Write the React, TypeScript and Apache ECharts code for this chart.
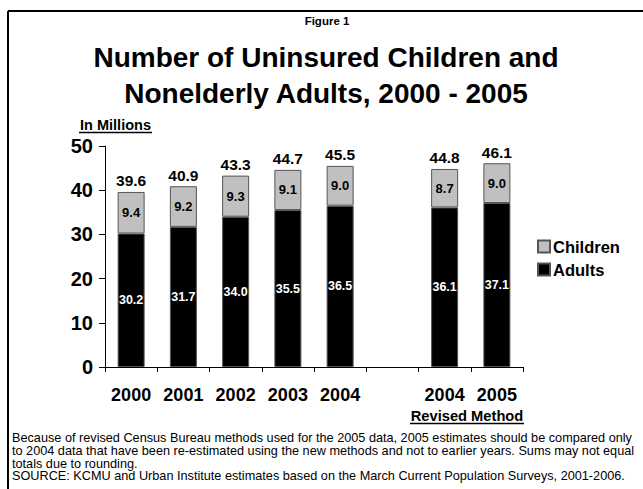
import React, { useEffect, useRef } from "react";
import * as echarts from "echarts";

const categories = ["2000", "2001", "2002", "2003", "2004", "", "2004", "2005"];
const adults = [30.2, 31.7, 34.0, 35.5, 36.5, null, 36.1, 37.1];
const children = [9.4, 9.2, 9.3, 9.1, 9.0, null, 8.7, 9.0];
const totals = [39.6, 40.9, 43.3, 44.7, 45.5, null, 44.8, 46.1];
const yTicks = [0, 10, 20, 30, 40, 50];

const titleLines = ["Number of Uninsured Children and", "Nonelderly Adults, 2000 - 2005"];
const footerLines = [
  "Because of revised Census Bureau methods used for the 2005 data, 2005 estimates should be compared only",
  "to 2004 data that have been re-estimated using the new methods and not to earlier years. Sums may not equal",
  "totals due to rounding.",
  "SOURCE: KCMU and Urban Institute estimates based on the March Current Population Surveys, 2001-2006.",
];

const FONT = '"Liberation Sans", Arial, Helvetica, sans-serif';

export default function App() {
  const ref = useRef<HTMLDivElement>(null);
  useEffect(() => {
    document.body.style.margin = "0";
    if (!ref.current) return;
    const chart = echarts.init(ref.current, null, { renderer: "svg" });
    const graphic: any[] = [
      { type: "line", shape: { x1: 8, y1: 11, x2: 643, y2: 11 }, style: { stroke: "#000", lineWidth: 2 } },
      { type: "line", shape: { x1: 8, y1: 11, x2: 8, y2: 489 }, style: { stroke: "#000", lineWidth: 2 } },
      {
        type: "text", x: 327, y: 21,
        style: { text: "Figure 1", font: `bold 11.5px ${FONT}`, fill: "#000", align: "center", verticalAlign: "middle" },
      },
      ...titleLines.map((t, i) => ({
        type: "text", x: 326, y: 57 + i * 36,
        style: { text: t, font: `bold 28px ${FONT}`, fill: "#000", align: "center", verticalAlign: "middle" },
      })),
      {
        type: "text", x: 115.5, y: 125,
        style: { text: "In Millions", font: `bold 14.5px ${FONT}`, fill: "#000", align: "center", verticalAlign: "middle" },
      },
      { type: "line", shape: { x1: 79, y1: 132.5, x2: 152, y2: 132.5 }, style: { stroke: "#000", lineWidth: 1.5 } },
      {
        type: "text", x: 467, y: 416,
        style: { text: "Revised Method", font: `bold 14.7px ${FONT}`, fill: "#000", align: "center", verticalAlign: "middle" },
      },
      { type: "line", shape: { x1: 410, y1: 423.5, x2: 524, y2: 423.5 }, style: { stroke: "#000", lineWidth: 1.5 } },
      ...footerLines.map((t, i) => ({
        type: "text", x: 12, y: 438 + i * 12.8,
        style: { text: t, font: `12.7px ${FONT}`, fill: "#000", align: "left", verticalAlign: "middle" },
      })),
    ];
    chart.setOption({
      animation: false,
      textStyle: { fontFamily: FONT },
      grid: { left: 105, right: 120, top: 146, bottom: 122, containLabel: false },
      legend: {
        orient: "vertical",
        left: 537,
        top: 238,
        padding: 0,
        itemWidth: 12,
        itemHeight: 12,
        itemGap: 6,
        icon: "rect",
        data: ["Children", "Adults"],
        textStyle: { fontFamily: FONT, fontWeight: "bold", fontSize: 16.5, color: "#000", padding: [0, 0, 0, -2] },
      },
      xAxis: {
        type: "category",
        data: categories,
        axisLine: { lineStyle: { color: "#000", width: 1 } },
        axisTick: { show: true, length: 5, lineStyle: { color: "#000" } },
        axisLabel: { fontFamily: FONT, fontWeight: "bold", fontSize: 18, color: "#000", margin: 19, interval: 0 },
      },
      yAxis: {
        type: "value",
        min: yTicks[0],
        max: yTicks[yTicks.length - 1],
        interval: 10,
        axisLine: { show: true, lineStyle: { color: "#000", width: 1 } },
        axisTick: { show: true, length: 6, lineStyle: { color: "#000" } },
        splitLine: { show: false },
        axisLabel: { fontFamily: FONT, fontWeight: "bold", fontSize: 20, color: "#000", margin: 12 },
      },
      series: [
        {
          name: "Adults",
          type: "bar",
          stack: "all",
          data: adults,
          barWidth: 27,
          itemStyle: { color: "#000", borderColor: "#555", borderWidth: 1 },
          label: {
            show: true, position: "inside", color: "#fff", fontFamily: FONT, fontWeight: "bold", fontSize: 12.5,
            formatter: (p: any) => (p.value == null ? "" : Number(p.value).toFixed(1)),
          },
        },
        {
          name: "Children",
          type: "bar",
          stack: "all",
          data: children,
          barWidth: 27,
          itemStyle: { color: "#c0c0c0", borderColor: "#555", borderWidth: 1 },
          label: {
            show: true, position: "inside", color: "#000", fontFamily: FONT, fontWeight: "bold", fontSize: 13,
            formatter: (p: any) => (p.value == null ? "" : Number(p.value).toFixed(1)),
          },
        },
        {
          name: "Total",
          type: "bar",
          data: totals,
          barWidth: 27,
          barGap: "-100%",
          silent: true,
          itemStyle: { color: "rgba(0,0,0,0)", borderWidth: 0 },
          label: {
            show: true, position: "top", distance: 3, color: "#000", fontFamily: FONT, fontWeight: "bold", fontSize: 15.5,
            formatter: (p: any) => (p.value == null ? "" : Number(p.value).toFixed(1)),
          },
          z: 1,
        },
      ],
      graphic,
    });
    return () => chart.dispose();
  }, []);
  return <div ref={ref} style={{ width: 643, height: 489 }} />;
}
